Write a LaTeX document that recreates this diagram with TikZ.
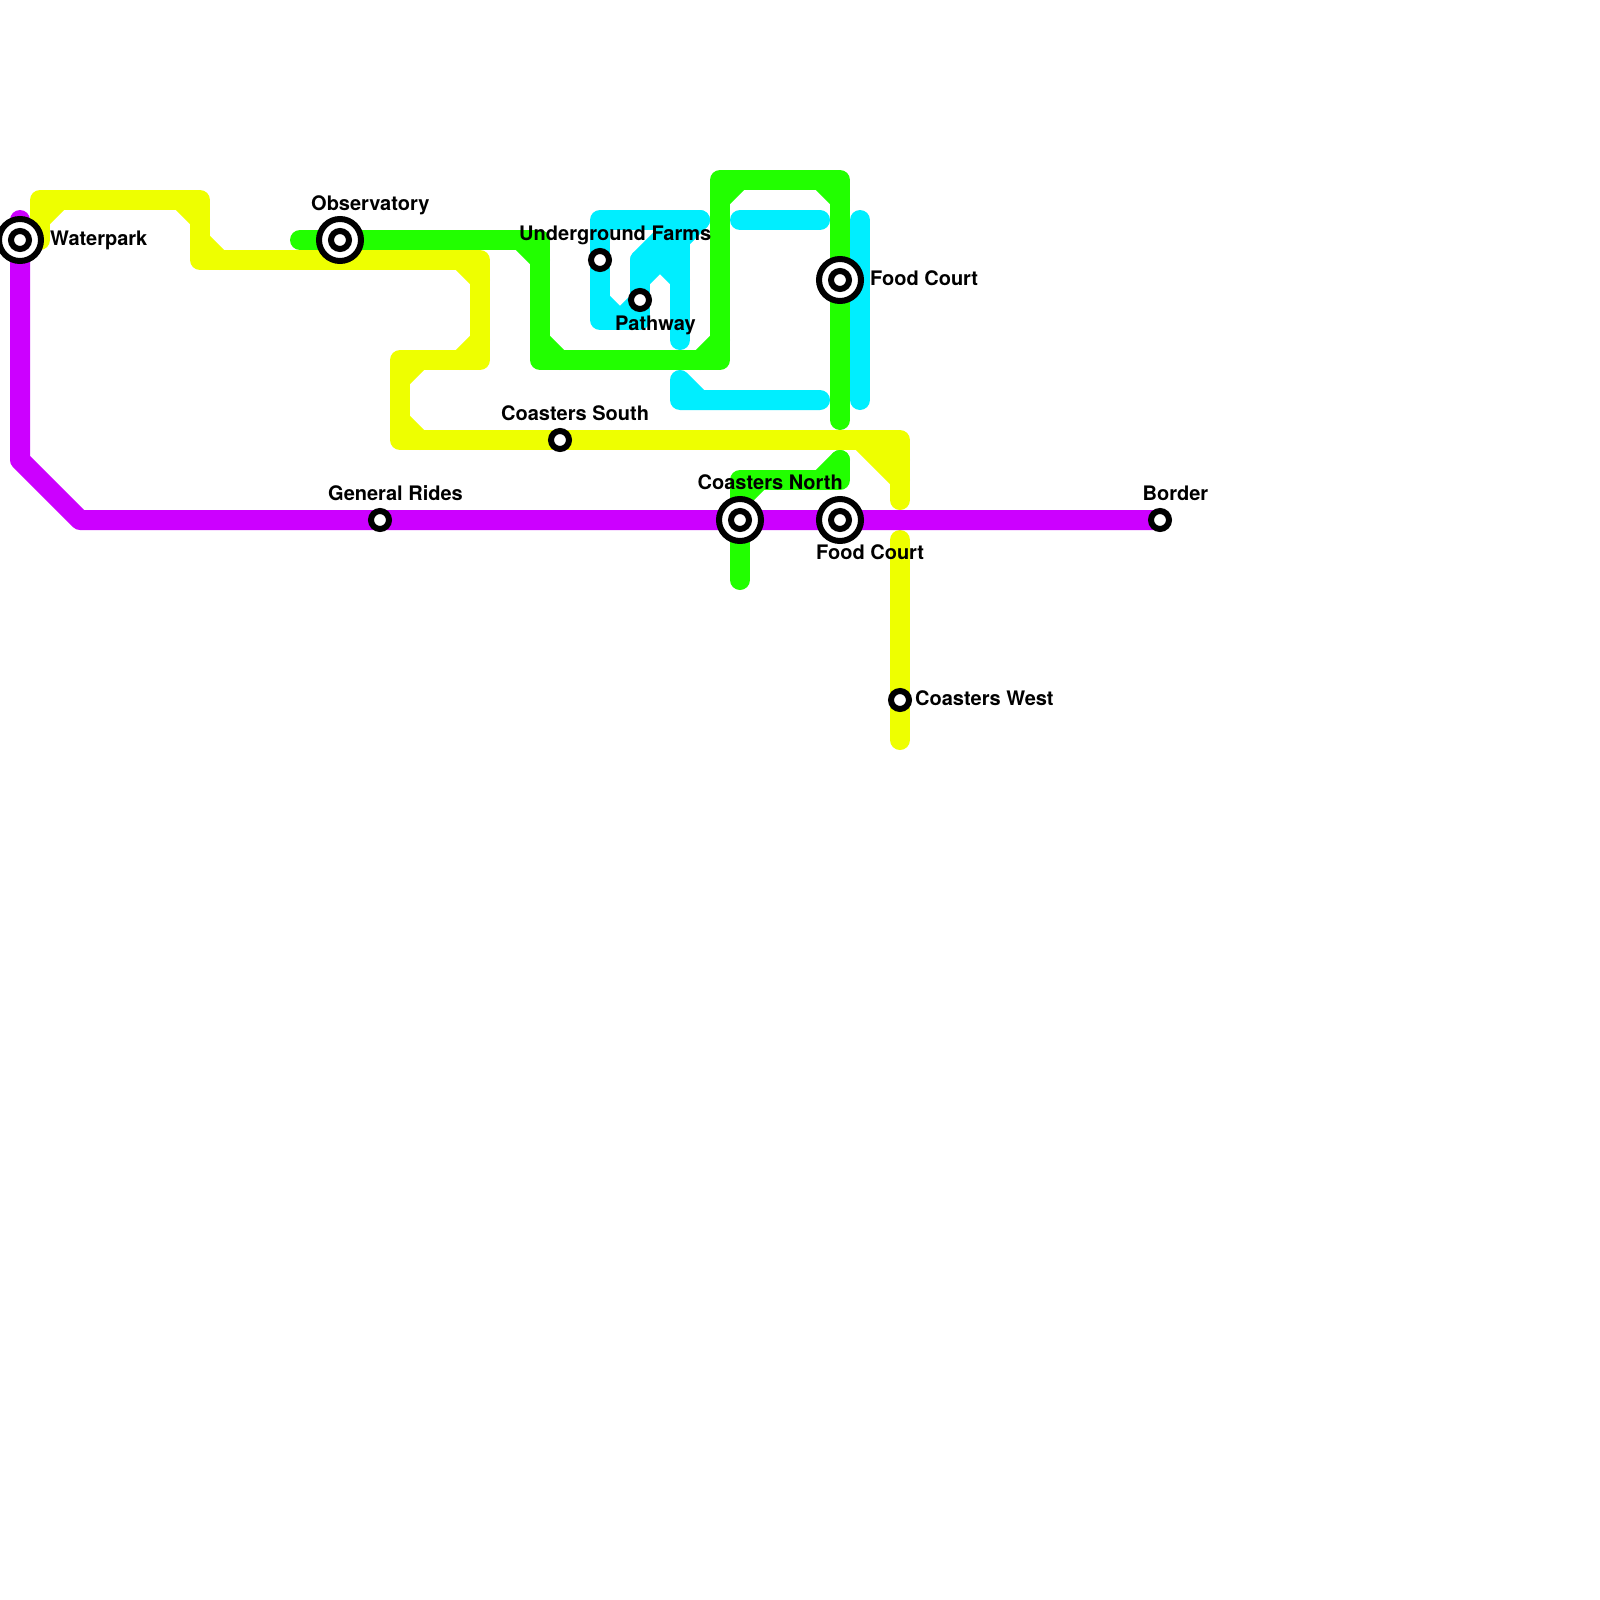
\documentclass[tikz,border=0pt]{standalone}
\usepackage{xcolor}
\usepackage{fontspec}
\setmainfont{TeX Gyre Heros}
\definecolor{parkpurple}{HTML}{CC00FF}
\definecolor{parkyellow}{HTML}{EEFF00}
\definecolor{parkgreen}{HTML}{22FF00}
\definecolor{parkcyan}{HTML}{00EEFF}
\begin{document}
\begin{tikzpicture}[x=1pt, y=-1pt,
    route/.style={line width=20pt, line cap=round, line join=round},
    stop/.style={circle, draw=black, fill=white, line width=6pt, minimum size=18pt, inner sep=0pt},
    bigstop/.style={circle, draw=black, fill=white, line width=6pt, minimum size=42pt, inner sep=0pt},
    stoplabel/.style={anchor=base west, inner sep=0pt, font=\fontsize{20}{24}\selectfont\bfseries}]
    \path[use as bounding box, fill=white] (0,0) rectangle (1600,1600);

    \coordinate (waterpark) at (20,240);
    \coordinate (observatory) at (340,240);
    \coordinate (generalrides) at (380,520);
    \coordinate (costerssouth) at (560,440);
    \coordinate (farms) at (600,260);
    \coordinate (pathway) at (640,300);
    \coordinate (coastersnorth) at (740,520);
    \coordinate (foodcourtup) at (840,280);
    \coordinate (foodcourtlow) at (840,520);
    \coordinate (coasterswest) at (900,700);
    \coordinate (border) at (1160,520);

    % yellow
    \draw[route, parkyellow] (40,240) -- (40,200) -- (200,200) -- (200,260) -- (480,260) -- (480,360)
        -- (400,360) -- (400,440) -- (costerssouth) -- (900,440) -- (900,500);
    \draw[route, parkyellow] (40,220) -- (60,200) (180,200) -- (200,220) (200,240) -- (220,260)
        (460,260) -- (480,280) (480,340) -- (460,360) (420,360) -- (400,380)
        (400,420) -- (420,440) (860,440) -- (900,480) (880,440) -- (900,460);
    \draw[route, parkyellow] (900,540) -- (coasterswest) -- (900,740);

    % green
    \draw[route, parkgreen] (300,240) -- (observatory) -- (540,240) -- (540,360) -- (720,360)
        -- (720,180) -- (840,180) -- (foodcourtup) -- (840,420);
    \draw[route, parkgreen] (520,240) -- (540,260) (540,340) -- (560,360) (700,360) -- (720,340)
        (720,200) -- (740,180) (820,180) -- (840,200);
    \draw[route, parkgreen] (740,580) -- (coastersnorth) -- (740,480) -- (840,480) -- (840,460);
    \draw[route, parkgreen] (740,500) -- (760,480) (820,480) -- (840,460);

    % cyan
    \draw[route, parkcyan] (700,220) -- (600,220) -- (farms) -- (600,320) -- (640,320)
        -- (pathway) -- (640,260);
    \draw[route, parkcyan] (600,300) -- (620,320) -- (640,300) (640,260) -- (680,220)
        (640,280) -- (680,240) (660,260) -- (680,280) (680,240) -- (700,220);
    \draw[route, parkcyan] (680,220) -- (680,340);
    \draw[route, parkcyan] (740,220) -- (820,220);
    \draw[route, parkcyan] (860,220) -- (860,400);
    \draw[route, parkcyan] (680,380) -- (680,400) -- (820,400) (680,380) -- (700,400);

    % purple
    \draw[route, parkpurple] (20,220) -- (waterpark) -- (20,460) -- (80,520) -- (generalrides)
        -- (coastersnorth) -- (foodcourtlow) -- (border);

    \foreach \s in {waterpark, observatory, coastersnorth, foodcourtup, foodcourtlow}
        \node[bigstop] (\s ring) at (\s) {};
    \foreach \s in {waterpark, observatory, generalrides, costerssouth, farms, pathway,
        coastersnorth, foodcourtup, foodcourtlow, coasterswest, border}
        \node[stop] (\s dot) at (\s) {};

    \node[stoplabel] (waterparklabel) at (50,245) {Waterpark};
    \node[stoplabel] (observatorylabel) at (311,210) {Observatory};
    \node[stoplabel] (generalrideslabel) at (328,500) {General Rides};
    \node[stoplabel] (costerssouthlabel) at (501,420) {Coasters South};
    \node[stoplabel] (farmslabel) at (519,240) {Underground Farms};
    \node[stoplabel] (pathwaylabel) at (615,330) {Pathway};
    \node[stoplabel] (coastersnorthlabel) at (697.5,489.5) {Coasters North};
    \node[stoplabel] (foodcourtuplabel) at (870,285) {Food Court};
    \node[stoplabel] (foodcourtlowlabel) at (816,559.5) {Food Court};
    \node[stoplabel] (coasterswestlabel) at (915,705) {Coasters West};
    \node[stoplabel] (borderlabel) at (1142.5,500) {Border};
\end{tikzpicture}
\end{document}
